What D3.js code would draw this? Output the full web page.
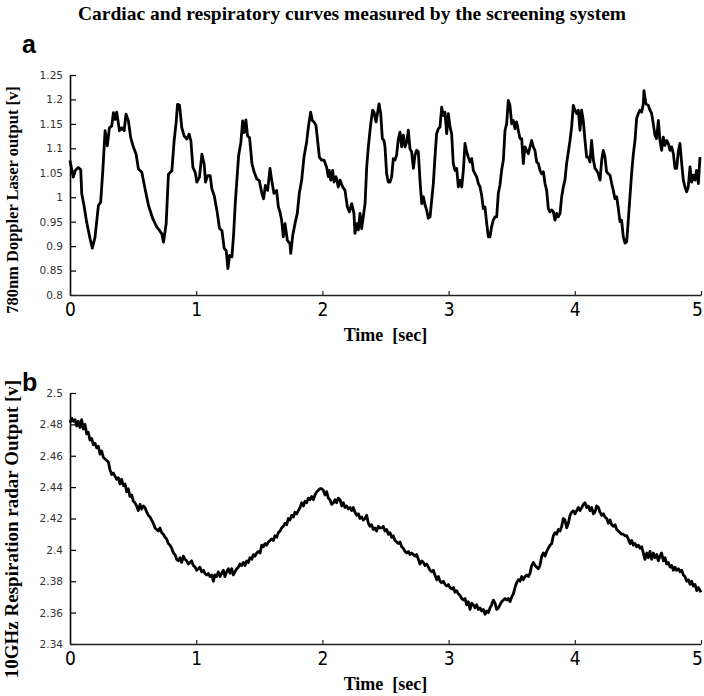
<!DOCTYPE html>
<html><head><meta charset="utf-8">
<script src="https://cdn.jsdelivr.net/npm/d3@7"></script>
<style>body{margin:0;background:#fff}svg{display:block}</style>
</head><body>
<script>
const chartTitle = "Cardiac and respiratory curves measured by the screening system";
const panelLabels = ["a", "b"];
const xTitle = "Time  [sec]";
const cardiacTitle = "780nm Doppler Laser output [v]";
const respTitle = "10GHz Respiration radar Output [v]";
const timeTicks = [0, 1, 2, 3, 4, 5];
const cardiacTicks = [0.8, 0.85, 0.9, 0.95, 1, 1.05, 1.1, 1.15, 1.2, 1.25];
const respTicks = [2.34, 2.36, 2.38, 2.4, 2.42, 2.44, 2.46, 2.48, 2.5];

// panel a: [time s, output V]
const cardiacSamples = [
[0,1.075],[0.026,1.041],[0.04,1.054],[0.066,1.061],[0.085,1.056],[0.093,1.007],[0.111,0.983],[0.132,0.949],[0.159,0.915],[0.177,0.896],
[0.198,0.918],[0.225,0.983],[0.243,0.99],[0.26,1.054],[0.278,1.136],[0.296,1.105],[0.312,1.142],[0.331,1.146],[0.344,1.173],[0.357,1.159],
[0.37,1.174],[0.392,1.136],[0.41,1.142],[0.429,1.136],[0.444,1.17],[0.463,1.156],[0.481,1.122],[0.503,1.102],[0.524,1.088],[0.542,1.058],
[0.569,1.051],[0.595,1.017],[0.622,0.983],[0.656,0.956],[0.688,0.939],[0.709,0.932],[0.728,0.925],[0.741,0.908],[0.762,0.946],[0.78,1.047],
[0.807,1.054],[0.825,1.115],[0.841,1.153],[0.852,1.19],[0.868,1.188],[0.886,1.142],[0.905,1.125],[0.926,1.119],[0.944,1.129],[0.958,1.115],
[0.974,1.061],[0.992,1.051],[1.005,1.031],[1.026,1.041],[1.045,1.088],[1.063,1.068],[1.074,1.031],[1.09,1.044],[1.111,1.044],[1.124,1.017],
[1.143,1.003],[1.164,0.973],[1.185,0.936],[1.204,0.932],[1.222,0.895],[1.238,0.891],[1.251,0.854],[1.265,0.881],[1.283,0.878],[1.296,0.922],
[1.31,0.99],[1.323,1.037],[1.336,1.085],[1.354,1.112],[1.368,1.156],[1.381,1.132],[1.394,1.158],[1.407,1.125],[1.423,1.122],[1.442,1.068],
[1.46,1.051],[1.481,1.037],[1.5,1.034],[1.521,1.007],[1.534,0.997],[1.548,1.024],[1.566,1.014],[1.585,1.059],[1.598,1.035],[1.616,1.008],
[1.637,1.014],[1.651,0.98],[1.664,0.97],[1.677,0.953],[1.69,0.919],[1.704,0.946],[1.722,0.912],[1.743,0.905],[1.749,0.885],[1.765,0.922],
[1.783,0.946],[1.801,0.967],[1.817,1.008],[1.836,1.035],[1.854,1.082],[1.875,1.113],[1.889,1.144],[1.907,1.174],[1.92,1.157],[1.933,1.154],
[1.949,1.147],[1.962,1.116],[1.976,1.082],[1.994,1.076],[2.013,1.076],[2.034,1.061],[2.047,1.042],[2.055,1.055],[2.066,1.035],[2.081,1.055],
[2.092,1.031],[2.108,1.042],[2.126,1.021],[2.139,1.035],[2.161,1.021],[2.179,1.014],[2.198,0.98],[2.214,0.97],[2.232,0.987],[2.25,0.967],
[2.258,0.926],[2.272,0.946],[2.285,0.933],[2.298,0.967],[2.311,0.936],[2.324,0.96],[2.338,0.987],[2.351,1.062],[2.364,1.103],[2.383,1.15],
[2.398,1.178],[2.409,1.174],[2.425,1.154],[2.449,1.191],[2.462,1.171],[2.475,1.12],[2.488,1.116],[2.496,1.103],[2.509,1.048],[2.522,1.031],
[2.536,1.031],[2.549,1.042],[2.562,1.079],[2.575,1.076],[2.588,1.086],[2.602,1.12],[2.615,1.133],[2.628,1.103],[2.641,1.127],[2.655,1.103],
[2.668,1.113],[2.681,1.137],[2.694,1.099],[2.707,1.093],[2.721,1.059],[2.734,1.086],[2.747,1.096],[2.76,1.093],[2.773,1.035],[2.787,0.987],
[2.8,1.001],[2.813,0.984],[2.826,0.974],[2.839,0.957],[2.853,0.96],[2.866,0.994],[2.879,1.028],[2.892,1.082],[2.905,1.13],[2.919,1.14],
[2.932,1.144],[2.945,1.184],[2.958,1.167],[2.971,1.174],[2.985,1.13],[2.998,1.171],[3.011,1.144],[3.024,1.13],[3.037,1.069],[3.051,1.055],
[3.064,1.059],[3.077,1.021],[3.09,1.035],[3.104,1.021],[3.117,1.055],[3.13,1.11],[3.143,1.093],[3.156,1.082],[3.17,1.072],[3.183,1.079],
[3.196,1.055],[3.209,1.048],[3.222,1.042],[3.236,1.028],[3.249,1.021],[3.262,1.004],[3.275,0.977],[3.288,0.98],[3.302,0.946],[3.315,0.919],
[3.328,0.919],[3.341,0.94],[3.354,0.953],[3.368,0.96],[3.381,0.96],[3.394,1.008],[3.407,1.025],[3.42,1.055],[3.434,1.076],[3.447,1.137],
[3.46,1.15],[3.473,1.198],[3.486,1.188],[3.5,1.15],[3.513,1.157],[3.526,1.14],[3.539,1.154],[3.552,1.137],[3.566,1.12],[3.579,1.12],
[3.592,1.069],[3.605,1.103],[3.618,1.096],[3.632,1.089],[3.645,1.103],[3.658,1.116],[3.671,1.103],[3.684,1.096],[3.698,1.072],[3.711,1.069],
[3.724,1.055],[3.737,1.048],[3.751,1.052],[3.764,1.028],[3.777,1.014],[3.79,0.977],[3.803,0.97],[3.817,0.974],[3.83,0.97],[3.843,0.953],
[3.856,0.967],[3.869,0.96],[3.883,0.967],[3.896,1.001],[3.909,1.021],[3.922,1.035],[3.935,1.069],[3.949,1.093],[3.962,1.116],[3.975,1.144],
[3.988,1.188],[4.001,1.178],[4.015,1.171],[4.028,1.178],[4.041,1.137],[4.054,1.178],[4.067,1.157],[4.081,1.116],[4.094,1.082],[4.107,1.082],
[4.12,1.072],[4.133,1.116],[4.147,1.076],[4.16,1.059],[4.173,1.055],[4.186,1.048],[4.2,1.035],[4.213,1.076],[4.226,1.096],[4.239,1.082],
[4.252,1.052],[4.266,1.048],[4.279,1.045],[4.292,1.028],[4.305,1.014],[4.318,0.997],[4.332,1.001],[4.345,0.977],[4.358,0.95],[4.371,0.953],
[4.384,0.919],[4.398,0.906],[4.411,0.909],[4.424,0.953],[4.437,1.001],[4.45,1.048],[4.464,1.089],[4.477,1.116],[4.49,1.161],[4.503,1.171],
[4.516,1.178],[4.53,1.174],[4.543,1.191],[4.548,1.218],[4.564,1.191],[4.582,1.188],[4.596,1.178],[4.609,1.171],[4.622,1.15],[4.635,1.127],
[4.648,1.12],[4.662,1.157],[4.675,1.116],[4.688,1.096],[4.701,1.123],[4.714,1.106],[4.728,1.116],[4.741,1.11],[4.754,1.096],[4.767,1.103],
[4.781,1.089],[4.794,1.059],[4.807,1.059],[4.82,1.093],[4.833,1.11],[4.847,1.069],[4.86,1.035],[4.873,1.021],[4.886,1.011],[4.899,1.021],
[4.913,1.062],[4.926,1.031],[4.939,1.045],[4.952,1.035],[4.965,1.055],[4.979,1.028],[4.992,1.082]
];

// panel b: [time s, output V]
const respSamples = [
[0,2.481],[0.013,2.484],[0.026,2.482],[0.04,2.483],[0.053,2.479],[0.066,2.482],[0.079,2.478],[0.092,2.483],[0.106,2.477],[0.119,2.48],
[0.132,2.474],[0.145,2.475],[0.158,2.47],[0.172,2.471],[0.185,2.467],[0.198,2.468],[0.211,2.465],[0.225,2.466],[0.238,2.461],[0.251,2.463],
[0.264,2.459],[0.277,2.458],[0.291,2.457],[0.304,2.456],[0.317,2.451],[0.33,2.448],[0.343,2.449],[0.357,2.447],[0.37,2.445],[0.383,2.446],
[0.396,2.442],[0.409,2.445],[0.423,2.441],[0.436,2.442],[0.449,2.437],[0.462,2.439],[0.475,2.434],[0.489,2.435],[0.502,2.431],[0.515,2.43],
[0.528,2.428],[0.541,2.425],[0.555,2.429],[0.568,2.426],[0.581,2.428],[0.594,2.427],[0.608,2.424],[0.621,2.422],[0.634,2.421],[0.647,2.419],
[0.66,2.417],[0.674,2.414],[0.687,2.413],[0.7,2.412],[0.713,2.414],[0.726,2.411],[0.74,2.41],[0.753,2.408],[0.766,2.407],[0.779,2.404],
[0.792,2.403],[0.806,2.401],[0.819,2.398],[0.832,2.397],[0.845,2.394],[0.858,2.393],[0.872,2.395],[0.885,2.392],[0.898,2.396],[0.911,2.394],
[0.924,2.393],[0.938,2.391],[0.951,2.392],[0.964,2.393],[0.977,2.39],[0.991,2.389],[1.004,2.387],[1.017,2.388],[1.03,2.389],[1.043,2.386],
[1.057,2.387],[1.07,2.385],[1.083,2.384],[1.096,2.385],[1.109,2.383],[1.123,2.384],[1.136,2.38],[1.149,2.384],[1.162,2.383],[1.175,2.386],
[1.189,2.383],[1.202,2.385],[1.215,2.387],[1.228,2.383],[1.241,2.386],[1.255,2.388],[1.268,2.385],[1.281,2.388],[1.294,2.384],[1.307,2.386],
[1.321,2.388],[1.334,2.389],[1.347,2.391],[1.36,2.39],[1.374,2.392],[1.387,2.39],[1.4,2.393],[1.413,2.392],[1.426,2.395],[1.44,2.394],
[1.453,2.397],[1.466,2.396],[1.479,2.398],[1.492,2.399],[1.506,2.398],[1.519,2.403],[1.532,2.402],[1.545,2.404],[1.558,2.403],[1.572,2.405],
[1.585,2.406],[1.598,2.407],[1.611,2.406],[1.624,2.409],[1.638,2.408],[1.651,2.411],[1.664,2.412],[1.677,2.414],[1.69,2.415],[1.704,2.417],
[1.717,2.416],[1.73,2.42],[1.743,2.419],[1.757,2.422],[1.77,2.421],[1.783,2.424],[1.796,2.423],[1.809,2.425],[1.823,2.427],[1.836,2.43],
[1.849,2.428],[1.862,2.431],[1.875,2.43],[1.889,2.433],[1.902,2.432],[1.915,2.434],[1.928,2.432],[1.941,2.435],[1.955,2.437],[1.968,2.438],
[1.981,2.439],[1.994,2.439],[2.007,2.438],[2.021,2.435],[2.034,2.437],[2.047,2.433],[2.06,2.432],[2.073,2.429],[2.087,2.43],[2.1,2.432],
[2.113,2.43],[2.126,2.433],[2.14,2.432],[2.153,2.428],[2.166,2.43],[2.179,2.427],[2.192,2.428],[2.206,2.426],[2.219,2.427],[2.232,2.425],
[2.245,2.427],[2.258,2.424],[2.272,2.422],[2.285,2.423],[2.298,2.42],[2.311,2.421],[2.324,2.419],[2.338,2.42],[2.351,2.422],[2.364,2.417],
[2.377,2.415],[2.39,2.416],[2.404,2.413],[2.417,2.414],[2.43,2.412],[2.443,2.415],[2.456,2.414],[2.47,2.414],[2.483,2.415],[2.496,2.412],
[2.509,2.413],[2.523,2.41],[2.536,2.411],[2.549,2.408],[2.562,2.409],[2.575,2.406],[2.589,2.405],[2.602,2.404],[2.615,2.405],[2.628,2.402],
[2.641,2.401],[2.655,2.399],[2.668,2.398],[2.681,2.399],[2.694,2.397],[2.707,2.398],[2.721,2.397],[2.734,2.396],[2.747,2.397],[2.76,2.394],
[2.773,2.391],[2.787,2.393],[2.8,2.392],[2.813,2.39],[2.826,2.391],[2.84,2.389],[2.853,2.387],[2.866,2.386],[2.879,2.387],[2.892,2.384],
[2.906,2.381],[2.919,2.383],[2.932,2.38],[2.945,2.379],[2.958,2.38],[2.972,2.378],[2.985,2.377],[2.998,2.378],[3.011,2.376],[3.024,2.375],
[3.038,2.376],[3.051,2.373],[3.064,2.374],[3.077,2.372],[3.09,2.371],[3.104,2.369],[3.117,2.368],[3.13,2.369],[3.143,2.365],[3.156,2.367],
[3.17,2.362],[3.183,2.366],[3.196,2.365],[3.209,2.363],[3.222,2.365],[3.236,2.362],[3.249,2.363],[3.262,2.361],[3.275,2.362],[3.289,2.359],
[3.302,2.361],[3.315,2.36],[3.328,2.363],[3.341,2.365],[3.355,2.368],[3.368,2.366],[3.381,2.362],[3.394,2.363],[3.407,2.365],[3.421,2.367],
[3.434,2.368],[3.447,2.369],[3.46,2.368],[3.473,2.369],[3.487,2.367],[3.5,2.37],[3.513,2.372],[3.526,2.376],[3.539,2.379],[3.553,2.381],
[3.566,2.38],[3.579,2.383],[3.592,2.381],[3.605,2.383],[3.619,2.384],[3.632,2.383],[3.645,2.385],[3.658,2.39],[3.672,2.392],[3.685,2.39],
[3.698,2.389],[3.711,2.388],[3.724,2.39],[3.738,2.396],[3.751,2.398],[3.764,2.396],[3.777,2.399],[3.79,2.401],[3.804,2.403],[3.817,2.404],
[3.83,2.409],[3.843,2.411],[3.856,2.41],[3.87,2.413],[3.883,2.412],[3.896,2.415],[3.909,2.42],[3.922,2.419],[3.936,2.414],[3.949,2.417],
[3.962,2.422],[3.975,2.424],[3.988,2.425],[4.002,2.423],[4.015,2.425],[4.028,2.427],[4.041,2.425],[4.055,2.427],[4.068,2.429],[4.081,2.43],
[4.094,2.427],[4.107,2.428],[4.121,2.425],[4.134,2.427],[4.147,2.423],[4.16,2.424],[4.173,2.428],[4.187,2.427],[4.2,2.424],[4.213,2.422],
[4.226,2.423],[4.239,2.421],[4.253,2.42],[4.266,2.417],[4.279,2.419],[4.292,2.416],[4.305,2.415],[4.319,2.416],[4.332,2.413],[4.345,2.412],
[4.358,2.411],[4.371,2.41],[4.385,2.41],[4.398,2.409],[4.411,2.409],[4.424,2.407],[4.438,2.404],[4.451,2.406],[4.464,2.403],[4.477,2.404],
[4.49,2.402],[4.504,2.403],[4.517,2.401],[4.53,2.402],[4.543,2.398],[4.556,2.394],[4.57,2.398],[4.583,2.395],[4.596,2.399],[4.609,2.394],
[4.622,2.398],[4.636,2.395],[4.649,2.397],[4.662,2.393],[4.675,2.396],[4.688,2.398],[4.702,2.393],[4.715,2.395],[4.728,2.391],[4.741,2.392],
[4.755,2.389],[4.768,2.39],[4.781,2.387],[4.794,2.389],[4.807,2.387],[4.821,2.388],[4.834,2.386],[4.847,2.387],[4.86,2.384],[4.873,2.383],
[4.887,2.38],[4.9,2.381],[4.913,2.378],[4.926,2.38],[4.939,2.377],[4.953,2.378],[4.966,2.374],[4.979,2.376],[5,2.373]
];

const W = 704, H = 696;
const svg = d3.select("body").append("svg").attr("width", W).attr("height", H);

const serif = "'Liberation Serif','Times New Roman',serif";
const narrow = "'Liberation Sans Narrow','DejaVu Sans Condensed','Arial Narrow',sans-serif";
const tickFont = "'DejaVu Sans',Verdana,sans-serif";
const fmt = d => String(+d.toFixed(2));

svg.append("text").attr("x", 352).attr("y", 20).attr("text-anchor", "middle")
  .style("font-family", serif).style("font-weight", "bold").style("font-size", "19.5px")
  .text(chartTitle);

const x = d3.scaleLinear().domain([0, 5]).range([70, 701]);

const panels = [
  {label: panelLabels[0], labelY: 53, data: cardiacSamples, ticks: cardiacTicks, dom: [0.8, 1.25], range: [295, 75],
   title: cardiacTitle, titleY: 200, titleSize: 16.5},
  {label: panelLabels[1], labelY: 391, data: respSamples, ticks: respTicks, dom: [2.34, 2.5], range: [644, 393],
   title: respTitle, titleY: 529, titleSize: 19}
];

panels.forEach(p => {
  const y = d3.scaleLinear().domain(p.dom).range(p.range);
  const g = svg.append("g");

  const ya = g.append("g").attr("transform", `translate(${x(0)},0)`)
    .call(d3.axisLeft(y).tickValues(p.ticks).tickFormat(fmt).tickSizeInner(-6).tickSizeOuter(0).tickPadding(7));
  ya.select(".domain").attr("stroke", "#000").attr("stroke-width", 1.6);
  ya.selectAll(".tick line").attr("stroke", "#000").attr("stroke-width", 1.2);
  ya.selectAll(".tick text").style("font-family", tickFont).style("font-size", "10.5px").attr("fill", "#333");

  const xa = g.append("g").attr("transform", `translate(0,${p.range[0]})`)
    .call(d3.axisBottom(x).tickValues(timeTicks).tickFormat(d3.format("d")).tickSizeInner(-4).tickSizeOuter(0).tickPadding(8));
  xa.select(".domain").attr("stroke", "#222").attr("stroke-width", 1.6);
  xa.selectAll(".tick line").attr("stroke", "#222").attr("stroke-width", 1.2);
  xa.selectAll(".tick text").style("font-family", narrow).style("font-size", "19px").attr("fill", "#000")
    .attr("dx", d => d === 5 ? -4 : 0);

  const line = d3.line().x(d => x(d[0])).y(d => y(d[1]));
  g.append("path").datum(p.data).attr("d", line).attr("fill", "none")
    .attr("stroke", "#000").attr("stroke-width", 2.8).attr("stroke-linejoin", "round");

  g.append("text").attr("x", 22).attr("y", p.labelY)
    .style("font-family", "'Liberation Sans',Arial,sans-serif").style("font-weight", "bold").style("font-size", "25px")
    .text(p.label);

  g.append("text").attr("transform", `translate(18,${p.titleY}) rotate(-90)`).attr("text-anchor", "middle")
    .style("font-family", serif).style("font-weight", "bold").style("font-size", p.titleSize + "px")
    .text(p.title);

  g.append("text").attr("x", (x(0) + x(5)) / 2).attr("y", p.range[0] + 46).attr("text-anchor", "middle")
    .style("font-family", serif).style("font-weight", "bold").style("font-size", "18px").style("white-space", "pre")
    .text(xTitle);
});
</script>
</body></html>
